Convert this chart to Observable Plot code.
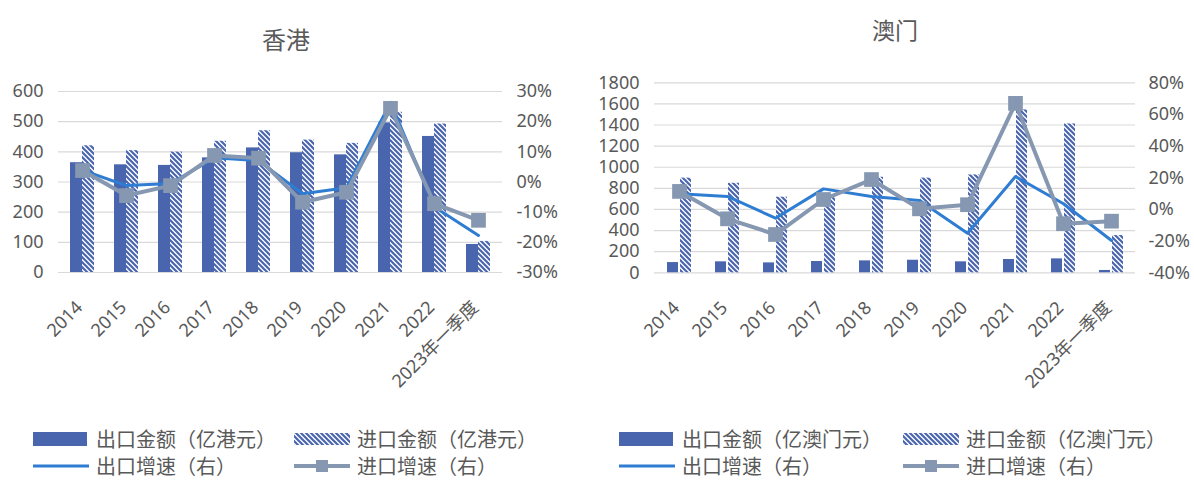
<!DOCTYPE html>
<html><head><meta charset="utf-8">
<script src="https://cdn.jsdelivr.net/npm/d3@7"></script>
<script src="https://cdn.jsdelivr.net/npm/@observablehq/plot@0.6"></script>
<style>
body{margin:0;background:#fff;font-family:"Noto Sans","Noto Sans CJK SC",sans-serif;color:#595959;}
#wrap{position:relative;width:1194px;height:480px;overflow:hidden;background:#fff;}
.title{position:absolute;transform:translate(-50%,-50%);white-space:nowrap;font-family:"Noto Sans CJK SC",sans-serif;color:#595959;}
.chart{position:absolute;top:60px;left:0;width:1194px;height:380px;}
.leg{position:absolute;font-size:20px;line-height:20px;white-space:nowrap;font-family:"Noto Sans CJK SC",sans-serif;color:#595959;transform:translateY(-50%);}
.sw{position:absolute;transform:translateY(-50%);}
</style>
</head><body>
<div id="wrap"></div>
<script>
const years = ["2014","2015","2016","2017","2018","2019","2020","2021","2022","2023年一季度"];

// 香港
const hkTitle = "香港";
const hkSeries = ["出口金额（亿港元）","进口金额（亿港元）","出口增速（右）","进口增速（右）"];
const hkExport = [364,357,355,380,413,397,390,496,451,93];
const hkImport = [420,404,399,435,470,439,428,531,492,103];
const hkExportGrowth = [3.9,-1.2,-0.5,8.0,7.1,-3.9,-1.9,26.4,-8.3,-17.7];
const hkImportGrowth = [3.8,-4.5,-1.2,8.8,7.9,-6.7,-3.4,24.4,-7.2,-12.7];
const hkLeftTicks = [0,100,200,300,400,500,600];
const hkRightTicks = [-30,-20,-10,0,10,20,30];

// 澳门
const moTitle = "澳门";
const moSeries = ["出口金额（亿澳门元）","进口金额（亿澳门元）","出口增速（右）","进口增速（右）"];
const moExport = [97,104,94,107,113,119,104,126,132,22];
const moImport = [897,848,716,740,905,897,927,1543,1410,353];
const moExportGrowth = [9.9,8.2,-5.5,13.0,8.2,5.7,-15.0,20.8,3.6,-19.6];
const moImportGrowth = [11.4,-5.9,-15.8,6.3,18.9,0.4,3.0,67.0,-9.0,-7.4];
const moLeftTicks = [0,200,400,600,800,1000,1200,1400,1600,1800];
const moRightTicks = [-40,-20,0,20,40,60,80];

const BAR = "#4965ad";
const LINE_BLUE = "#2e7dd2";
const LINE_GRAY = "#8597b1";
const GRID = "#d9d9d9";
const TEXT = "#595959";

const wrap = document.getElementById("wrap");

function hatchDefs(id) {
  return () => {
    const defs = d3.create("svg:defs");
    const p = defs.append("pattern").attr("id", id).attr("patternUnits", "userSpaceOnUse")
      .attr("width", 5).attr("height", 5);
    p.append("rect").attr("width", 5).attr("height", 5).attr("fill", "#fff");
    p.append("path").attr("d", "M-1,-1L6,6M-1,4L1,6M4,-1L6,1")
      .attr("stroke", BAR).attr("stroke-width", 2.2);
    return defs.node();
  };
}

function makeChart(cfg) {
  const rows = years.map((yr, i) => ({
    year: yr, exp: cfg.exp[i], imp: cfg.imp[i], eg: cfg.eg[i], ig: cfg.ig[i]
  }));
  const g2y = g => (g - cfg.gMin) * cfg.yMax / (cfg.gMax - cfg.gMin);
  const rightPos = cfg.rightTicks.map(g2y);
  const plot = Plot.plot({
    width: cfg.width, height: 380,
    marginTop: cfg.mt, marginBottom: 380 - cfg.bottom,
    marginLeft: cfg.ml, marginRight: cfg.mr,
    style: {fontSize: "18px", fontFamily: '"Noto Sans","Noto Sans CJK SC",sans-serif', color: TEXT, background: "transparent", overflow: "visible", maxWidth: "none"},
    x: {type: "band", domain: years, paddingInner: cfg.pad, paddingOuter: cfg.pad / 2},
    y: {domain: [0, cfg.yMax], nice: false},
    marks: [
      hatchDefs(cfg.hatchId),
      Plot.gridY(cfg.leftTicks, {stroke: GRID, strokeOpacity: 1, strokeWidth: 1.2}),
      Plot.barY(rows, {x: "year", y: "exp", fill: BAR, insetLeft: 0, insetRight: cfg.inset}),
      Plot.barY(rows, {x: "year", y: "imp", fill: `url(#${cfg.hatchId})`, insetLeft: cfg.inset, insetRight: 0}),
      Plot.line(rows, {x: "year", y: d => g2y(d.eg), stroke: LINE_BLUE, strokeWidth: 3}),
      Plot.line(rows, {x: "year", y: d => g2y(d.ig), stroke: LINE_GRAY, strokeWidth: 4}),
      Plot.dot(rows, {x: "year", y: d => g2y(d.ig), symbol: "square", r: 8.3, fill: LINE_GRAY, stroke: null}),
      Plot.axisY(cfg.leftTicks, {anchor: "left", tickSize: 0, tickPadding: 15, label: null, tickFormat: v => `${v}`}),
      Plot.axisY(rightPos, {anchor: "right", tickSize: 0, tickPadding: cfg.rpad, label: null,
        tickFormat: v => `${Math.round(v * (cfg.gMax - cfg.gMin) / cfg.yMax + cfg.gMin)}%`}),
      Plot.axisX({tickSize: 0, tickRotate: -45, tickPadding: 32, label: null, dx: -3})
    ]
  });
  plot.style.position = "absolute";
  plot.style.left = cfg.left + "px";
  plot.style.top = "0px";
  plot.style.maxWidth = "none";
  const holder = document.createElement("div");
  holder.className = "chart";
  holder.appendChild(plot);
  wrap.appendChild(holder);

  const t = document.createElement("div");
  t.className = "title";
  t.textContent = cfg.title;
  t.style.left = cfg.tx + "px";
  t.style.top = cfg.ty + "px";
  t.style.fontSize = cfg.tsize + "px";
  wrap.appendChild(t);

  const L = cfg.leg;
  const items = [
    {x: L.x1, y: 439, kind: "bar"},
    {x: L.x2, y: 439, kind: "hatch"},
    {x: L.x1, y: 466, kind: "line"},
    {x: L.x2, y: 466, kind: "lineSq"}
  ];
  items.forEach((it, i) => {
    const sw = d3.create("svg").attr("width", 56).attr("height", 16).attr("class", "sw")
      .style("left", it.x + "px").style("top", it.y + "px");
    if (it.kind === "bar") {
      sw.append("rect").attr("x", 0).attr("y", 1).attr("width", 54).attr("height", 14).attr("fill", BAR);
    } else if (it.kind === "hatch") {
      const p = sw.append("defs").append("pattern").attr("id", cfg.hatchId + "L").attr("patternUnits", "userSpaceOnUse")
        .attr("width", 5).attr("height", 5);
      p.append("rect").attr("width", 5).attr("height", 5).attr("fill", "#fff");
      p.append("path").attr("d", "M-1,-1L6,6M-1,4L1,6M4,-1L6,1").attr("stroke", BAR).attr("stroke-width", 2.2);
      sw.append("rect").attr("x", 0).attr("y", 2).attr("width", 56).attr("height", 12).attr("fill", `url(#${cfg.hatchId}L)`);
    } else if (it.kind === "line") {
      sw.append("line").attr("x1", 0).attr("x2", 56).attr("y1", 8).attr("y2", 8).attr("stroke", LINE_BLUE).attr("stroke-width", 3);
    } else {
      sw.append("line").attr("x1", 0).attr("x2", 56).attr("y1", 8).attr("y2", 8).attr("stroke", LINE_GRAY).attr("stroke-width", 4);
      sw.append("rect").attr("x", 22).attr("y", 2).attr("width", 12).attr("height", 12).attr("fill", LINE_GRAY);
    }
    wrap.appendChild(sw.node());
    const tx = document.createElement("div");
    tx.className = "leg";
    tx.textContent = cfg.series[i];
    tx.style.left = (it.x + 63) + "px";
    tx.style.top = it.y + "px";
    wrap.appendChild(tx);
  });
}

makeChart({
  title: hkTitle, series: hkSeries, tx: 286, ty: 38, tsize: 24,
  exp: hkExport, imp: hkImport, eg: hkExportGrowth, ig: hkImportGrowth,
  leftTicks: hkLeftTicks, rightTicks: hkRightTicks, gMin: -30, gMax: 30, yMax: 600,
  left: 0, width: 600, mt: 31, bottom: 212, ml: 58, mr: 98, pad: 0.46, inset: 12, rpad: 14,
  hatchId: "hatchHK", leg: {x1: 33, x2: 294}
});
makeChart({
  title: moTitle, series: moSeries, tx: 895, ty: 29, tsize: 23,
  exp: moExport, imp: moImport, eg: moExportGrowth, ig: moImportGrowth,
  leftTicks: moLeftTicks, rightTicks: moRightTicks, gMin: -40, gMax: 80, yMax: 1800,
  left: 600, width: 594, mt: 22.3, bottom: 212.3, ml: 54, mr: 59, pad: 0.5, inset: 13, rpad: 13,
  hatchId: "hatchMO", leg: {x1: 619, x2: 903}
});
</script>
</body></html>
